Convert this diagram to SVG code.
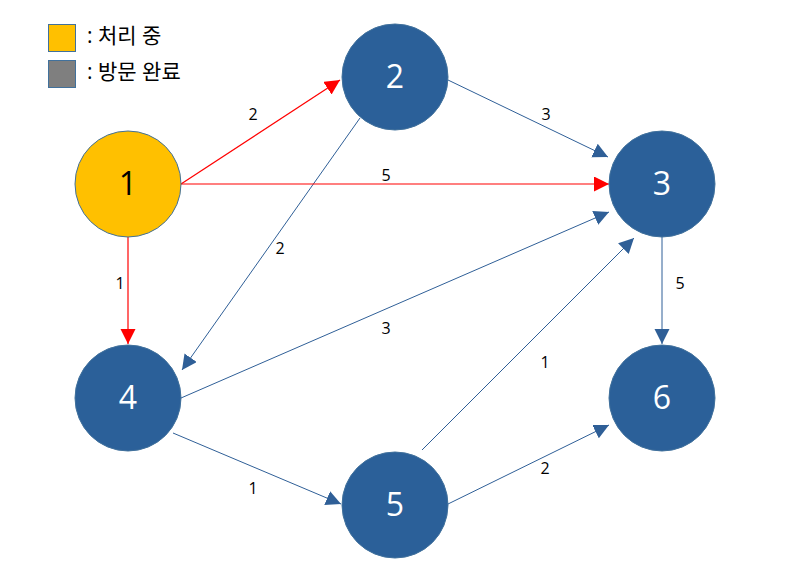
<svg xmlns="http://www.w3.org/2000/svg" width="789" height="580" viewBox="0 0 789 580">
<style>
.node{fill:#2B6099;stroke:#41719C;stroke-width:1}
.n1{fill:#FFC000;stroke:#41719C;stroke-width:1}
.nt{font-family:"Open Sans","Noto Sans",sans-serif;font-size:32px;fill:#FFFFFF;text-anchor:middle}
.nt1{fill:#000000}
.e{stroke:#2F5F97;stroke-width:1;fill:none}
.r{stroke:#FF0000;stroke-width:1.2;fill:none}
.lb{font-family:"Open Sans","Noto Sans",sans-serif;font-size:16px;fill:#000;text-anchor:middle}
.lg{font-family:"Open Sans","Noto Sans CJK KR",sans-serif;font-size:21px;fill:#000}
</style>
<defs>
<marker id="ab" markerUnits="userSpaceOnUse" markerWidth="16" markerHeight="16" refX="15" refY="7.5" orient="auto"><path d="M0,0 L15,7.5 L0,15 z" fill="#2F5F97"/></marker>
<marker id="ar" markerUnits="userSpaceOnUse" markerWidth="16" markerHeight="16" refX="15" refY="7.5" orient="auto"><path d="M0,0 L15,7.5 L0,15 z" fill="#FF0000"/></marker>
</defs>
<g id="legend">
<rect x="48.5" y="24.5" width="27" height="27" fill="#FFC000" stroke="#41719C"/>
<text class="lg" x="87" y="43">: 처리 중</text>
<rect x="48.5" y="60.5" width="27" height="27" fill="#7F7F7F" stroke="#41719C"/>
<text class="lg" x="87" y="79">: 방문 완료</text>
</g>
<g id="connectors">
<line class="e" x1="448" y1="80" x2="608" y2="157" marker-end="url(#ab)"/>
<line class="e" x1="360" y1="118" x2="182" y2="370" marker-end="url(#ab)"/>
<line class="e" x1="181" y1="398" x2="609" y2="212" marker-end="url(#ab)"/>
<line class="e" x1="173" y1="433" x2="341" y2="504" marker-end="url(#ab)"/>
<line class="e" x1="422" y1="450" x2="634" y2="238" marker-end="url(#ab)"/>
<line class="e" x1="448" y1="504" x2="609" y2="425" marker-end="url(#ab)"/>
<line class="e" x1="662" y1="237" x2="662" y2="344" marker-end="url(#ab)"/>
<line class="r" x1="181" y1="184" x2="340" y2="80" marker-end="url(#ar)"/>
<line class="r" x1="181" y1="184" x2="609" y2="184" marker-end="url(#ar)"/>
<line class="r" x1="128" y1="237" x2="128" y2="344" marker-end="url(#ar)"/>
<text class="lb" x="253" y="120">2</text>
<text class="lb" x="546" y="120">3</text>
<text class="lb" x="386" y="181">5</text>
<text class="lb" x="280" y="254">2</text>
<text class="lb" x="120" y="289">1</text>
<text class="lb" x="386" y="334">3</text>
<text class="lb" x="545" y="368">1</text>
<text class="lb" x="680" y="289">5</text>
<text class="lb" x="253" y="494">1</text>
<text class="lb" x="545" y="474">2</text>
</g>
<g id="node1"><circle class="n1" cx="128" cy="184" r="53"/><text class="nt nt1" x="128" y="195">1</text></g>
<g id="node2"><circle class="node" cx="395" cy="77" r="53"/><text class="nt" x="395" y="88">2</text></g>
<g id="node3"><circle class="node" cx="662" cy="184" r="53"/><text class="nt" x="662" y="195">3</text></g>
<g id="node4"><circle class="node" cx="128" cy="398" r="53"/><text class="nt" x="128" y="409">4</text></g>
<g id="node5"><circle class="node" cx="395" cy="505" r="53"/><text class="nt" x="395" y="516">5</text></g>
<g id="node6"><circle class="node" cx="662" cy="398" r="53"/><text class="nt" x="662" y="409">6</text></g>
</svg>
